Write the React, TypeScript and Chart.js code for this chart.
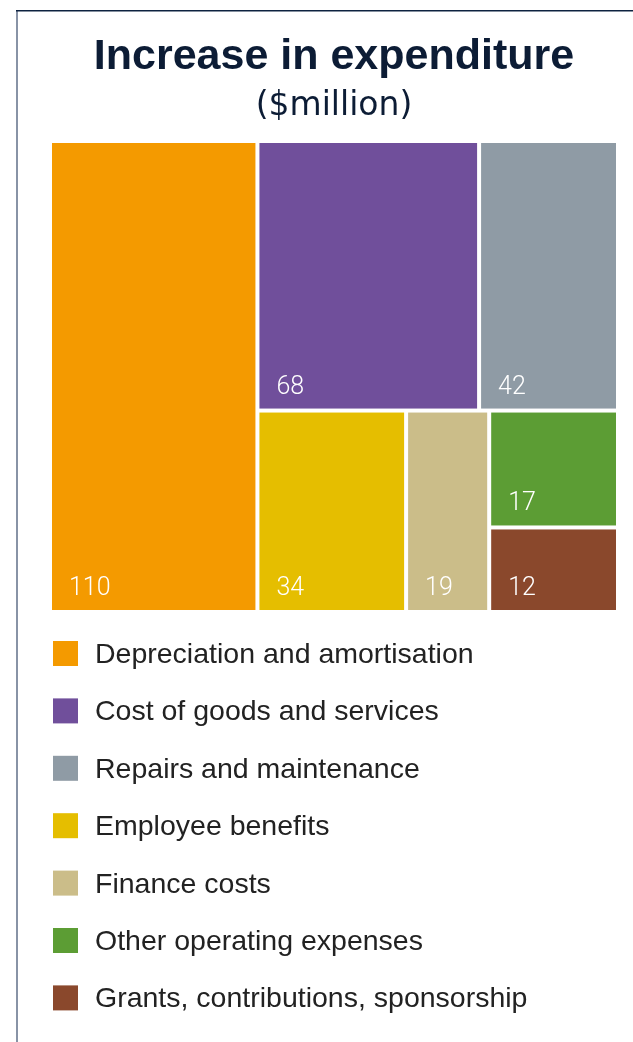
import React, { useEffect, useRef } from 'react';
import { Chart, registerables } from 'chart.js';

Chart.register(...registerables);

const TITLE = 'Increase in expenditure';
const SUBTITLE = '($million)';
const CATEGORIES = [
  'Depreciation and amortisation',
  'Cost of goods and services',
  'Repairs and maintenance',
  'Employee benefits',
  'Finance costs',
  'Other operating expenses',
  'Grants, contributions, sponsorship',
];
const VALUES = [110, 68, 42, 34, 19, 17, 12];
const COLORS = ['#F49A00', '#704F9B', '#8F9BA5', '#E5BE00', '#CBBD89', '#5C9D34', '#8A482C'];
// Treemap grouping (indices into the arrays above), alternating side-by-side / stacked splits
const GROUPING: any[] = [[0], [[1, 2], [3, 4, [5, 6]]]];

type Rect = { x0: number; y0: number; x1: number; y1: number };

const sumNode = (n: any): number =>
  typeof n === 'number' ? VALUES[n] : n.reduce((a: number, c: any) => a + sumNode(c), 0);

function layoutNode(node: any, r: Rect, horiz: boolean, out: Rect[]) {
  if (typeof node === 'number') {
    out[node] = r;
    return;
  }
  const total = sumNode(node);
  let pos = horiz ? r.x0 : r.y0;
  for (const c of node) {
    const f = sumNode(c) / total;
    if (horiz) {
      const w = (r.x1 - r.x0) * f;
      layoutNode(c, { x0: pos, y0: r.y0, x1: pos + w, y1: r.y1 }, !horiz, out);
      pos += w;
    } else {
      const h = (r.y1 - r.y0) * f;
      layoutNode(c, { x0: r.x0, y0: pos, x1: r.x1, y1: pos + h }, !horiz, out);
      pos += h;
    }
  }
}

function computeRects(): Rect[] {
  const out: Rect[] = [];
  layoutNode(GROUPING, { x0: 0, y0: 0, x1: 1, y1: 1 }, true, out);
  return out;
}

const framePlugin = {
  id: 'frame',
  beforeDraw(chart: any) {
    const { ctx, width, height } = chart;
    ctx.save();
    ctx.strokeStyle = '#8893A6';
    ctx.lineWidth = 2;
    ctx.beginPath();
    ctx.moveTo(17, 10);
    ctx.lineTo(17, height);
    ctx.stroke();
    ctx.strokeStyle = '#0D2240';
    ctx.lineWidth = 1.5;
    ctx.beginPath();
    ctx.moveTo(16, 10.75);
    ctx.lineTo(width, 10.75);
    ctx.stroke();
    ctx.restore();
  },
};

const treemapPlugin = {
  id: 'treemapCells',
  afterDatasetsDraw(chart: any) {
    const { ctx } = chart;
    const xs = chart.scales.x;
    const ys = chart.scales.y;
    const rects = computeRects();
    const gap = 2;
    const eps = 1e-6;
    ctx.save();
    rects.forEach((r, i) => {
      let l = xs.getPixelForValue(r.x0);
      let rt = xs.getPixelForValue(r.x1);
      let t = ys.getPixelForValue(r.y0);
      let b = ys.getPixelForValue(r.y1);
      if (r.x0 > eps) l += gap;
      if (r.x1 < 1 - eps) rt -= gap;
      if (r.y0 > eps) t += gap;
      if (r.y1 < 1 - eps) b -= gap;
      ctx.fillStyle = COLORS[i];
      ctx.fillRect(l, t, rt - l, b - t);
      ctx.fillStyle = '#FFFFFF';
      ctx.font = '300 25px Roboto, "Liberation Sans", Arial, sans-serif';
      ctx.textAlign = 'left';
      ctx.textBaseline = 'alphabetic';
      ctx.fillText(String(VALUES[i]), l + 17, b - 15);
    });
    ctx.restore();
  },
};

const legendPlugin = {
  id: 'stackedLegend',
  afterDraw(chart: any) {
    const { ctx, chartArea } = chart;
    ctx.save();
    CATEGORIES.forEach((label, i) => {
      const cy = chartArea.bottom + 43.5 + i * 57.4;
      ctx.fillStyle = COLORS[i];
      ctx.fillRect(chartArea.left + 1, cy - 12.5, 25, 25);
      ctx.fillStyle = '#222222';
      ctx.font = '28.5px "Liberation Sans", Arial, sans-serif';
      ctx.textAlign = 'left';
      ctx.textBaseline = 'alphabetic';
      ctx.fillText(label, chartArea.left + 43, cy + 9.5);
    });
    ctx.restore();
  },
};

export default function App() {
  const ref = useRef<HTMLCanvasElement | null>(null);

  useEffect(() => {
    document.body.style.margin = '0';
    if (!ref.current) return;
    const rects = computeRects();
    const chart = new Chart(ref.current, {
      type: 'scatter',
      data: {
        labels: CATEGORIES,
        datasets: [
          {
            label: TITLE,
            data: rects.map((r) => ({ x: (r.x0 + r.x1) / 2, y: (r.y0 + r.y1) / 2 })),
            backgroundColor: COLORS,
            pointRadius: 0,
            pointHoverRadius: 0,
          },
        ],
      },
      options: {
        animation: false,
        responsive: true,
        maintainAspectRatio: false,
        layout: { padding: { left: 52, right: 17, top: 0, bottom: 432 } },
        scales: {
          x: { type: 'linear', min: 0, max: 1, display: false },
          y: { type: 'linear', min: 0, max: 1, reverse: true, display: false },
        },
        plugins: {
          legend: { display: false },
          tooltip: { enabled: false },
          title: {
            display: true,
            text: TITLE,
            color: '#0C1C35',
            font: { family: '"Liberation Sans", Arial, sans-serif', size: 43, weight: 'bold', lineHeight: 1 },
            padding: { top: 36, bottom: 0 },
          },
          subtitle: {
            display: true,
            text: SUBTITLE,
            color: '#0C1C35',
            font: { family: '"DejaVu Sans", sans-serif', size: 33, weight: 'normal', lineHeight: 1 },
            padding: { top: 11, bottom: 20 },
          },
        },
      },
      plugins: [framePlugin, treemapPlugin, legendPlugin],
    });
    return () => chart.destroy();
  }, []);

  return (
    <div style={{ position: 'absolute', left: 0, top: 0, width: 633, height: 1042 }}>
      <canvas ref={ref} />
    </div>
  );
}
